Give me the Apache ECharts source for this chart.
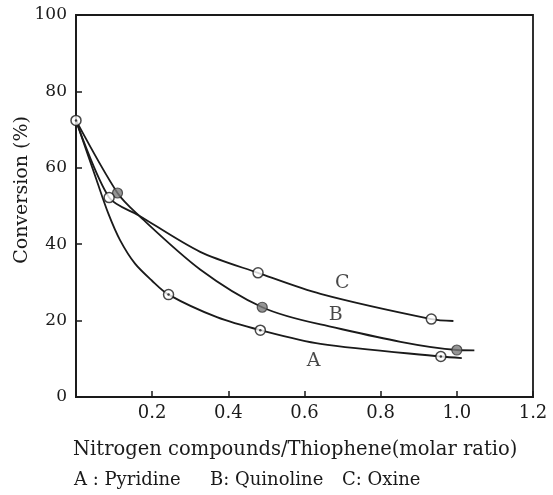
<!DOCTYPE html>
<html>
<head>
<meta charset="utf-8">
<script src="https://cdn.jsdelivr.net/npm/echarts@6/dist/echarts.min.js"></script>
<style>
  html, body { margin: 0; padding: 0; background: #fff; }
  #chart { width: 553px; height: 495px; }
</style>
</head>
<body>
<div id="chart"></div>
<script>
// curve traces [molar ratio, conversion %]
var curveA = [[0, 72.4], [0.054, 56.8], [0.085, 48.0], [0.116, 41.0], [0.155, 34.9], [0.199, 30.5], [0.243, 26.8], [0.37, 20.9], [0.484, 17.5], [0.642, 13.9], [0.958, 10.6], [1.013, 10.2]];
var curveB = [[0, 72.4], [0.109, 53.4], [0.164, 47.6], [0.326, 33.4], [0.489, 23.5], [0.642, 19.0], [1.0, 12.3], [1.046, 12.2]];
var curveC = [[0, 72.4], [0.087, 52.2], [0.164, 47.6], [0.326, 38.0], [0.478, 32.5], [0.642, 27.0], [0.933, 20.4], [0.991, 19.9]];

// measured points
var markA = [[0, 72.4], [0.243, 26.8], [0.484, 17.5], [0.958, 10.6]];
var markB = [[0.109, 53.4], [0.489, 23.5], [1.0, 12.3]];
var markC = [[0.087, 52.2], [0.478, 32.5], [0.933, 20.4]];

// curve letters
var curveLabels = [[0.624, 9.3, 'A'], [0.682, 21.5, 'B'], [0.699, 29.7, 'C']];

var xTicks = [0.2, 0.4, 0.6, 0.8, 1.0, 1.2];
var yTicks = [0, 20, 40, 60, 80, 100];

var FONT = 'DejaVu Serif';
var INK = '#1a1a1a';

var chart = echarts.init(document.getElementById('chart'));

var lineSeries = function (data) {
    return {
        type: 'line',
        data: data,
        smooth: 0.3,
        showSymbol: false,
        clip: false,
        lineStyle: { color: INK, width: 1.8 },
        z: 2
    };
};

var option = {
    backgroundColor: '#fff',
    animation: false,
    grid: {
        left: 76,
        right: 20,
        top: 15,
        bottom: 98,
        show: true,
        borderColor: INK,
        borderWidth: 1.8,
        backgroundColor: 'transparent'
    },
    xAxis: {
        type: 'value',
        min: 0,
        max: 1.2,
        interval: 0.2,
        axisLine: { show: true, lineStyle: { color: INK, width: 1.8 } },
        axisTick: { show: true, inside: true, length: 6, lineStyle: { color: INK, width: 1.5 } },
        splitLine: { show: false },
        axisLabel: {
            color: INK,
            fontFamily: FONT,
            fontSize: 18,
            margin: 7,
            formatter: function (v) {
                return xTicks.indexOf(Math.round(v * 10) / 10) >= 0 ? v.toFixed(1) : '';
            }
        }
    },
    yAxis: {
        type: 'value',
        min: 0,
        max: 100,
        interval: 20,
        axisLine: { show: true, lineStyle: { color: INK, width: 1.8 } },
        axisTick: { show: true, inside: true, length: 6, lineStyle: { color: INK, width: 1.5 } },
        splitLine: { show: false },
        axisLabel: {
            color: INK,
            fontFamily: FONT,
            fontSize: 17,
            margin: 9,
            formatter: function (v) {
                return yTicks.indexOf(v) >= 0 ? String(v) : '';
            }
        }
    },
    graphic: [
        {
            type: 'text',
            x: 22,
            y: 190,
            rotation: Math.PI / 2,
            style: {
                text: 'Conversion (%)',
                fill: INK,
                font: '19px "' + FONT + '"',
                align: 'center',
                verticalAlign: 'middle'
            }
        },
        {
            type: 'text',
            left: 73,
            top: 440,
            style: {
                text: 'Nitrogen compounds/Thiophene(molar ratio)',
                fill: INK,
                font: '19.5px "' + FONT + '"'
            }
        },
        {
            type: 'text',
            left: 74,
            top: 471,
            style: { text: 'A : Pyridine', fill: INK, font: '18px "' + FONT + '"' }
        },
        {
            type: 'text',
            left: 210,
            top: 471,
            style: { text: 'B: Quinoline', fill: INK, font: '18px "' + FONT + '"' }
        },
        {
            type: 'text',
            left: 342,
            top: 471,
            style: { text: 'C: Oxine', fill: INK, font: '18px "' + FONT + '"' }
        }
    ],
    series: [
        lineSeries(curveA),
        lineSeries(curveB),
        lineSeries(curveC),
        {
            type: 'scatter',
            data: markA,
            symbol: 'circle',
            symbolSize: 10,
            clip: false,
            itemStyle: { color: '#fff', borderColor: INK, borderWidth: 1.5 },
            z: 3
        },
        {
            type: 'scatter',
            data: markA,
            symbol: 'circle',
            symbolSize: 2.5,
            clip: false,
            itemStyle: { color: INK },
            z: 4
        },
        {
            type: 'scatter',
            data: markB,
            symbol: 'circle',
            symbolSize: 10,
            clip: false,
            itemStyle: { color: '#7a7a7a', borderColor: '#333', borderWidth: 1.2 },
            z: 3
        },
        {
            type: 'scatter',
            data: markC,
            symbol: 'circle',
            symbolSize: 10,
            clip: false,
            itemStyle: { color: '#fff', borderColor: INK, borderWidth: 1.5 },
            z: 3
        },
        {
            type: 'scatter',
            data: curveLabels.map(function (d) { return { value: [d[0], d[1]], name: d[2] }; }),
            symbolSize: 0,
            clip: false,
            label: {
                show: true,
                position: 'inside',
                formatter: '{b}',
                color: INK,
                fontFamily: FONT,
                fontSize: 19
            },
            z: 5
        }
    ]
};

chart.setOption(option);
</script>
</body>
</html>
